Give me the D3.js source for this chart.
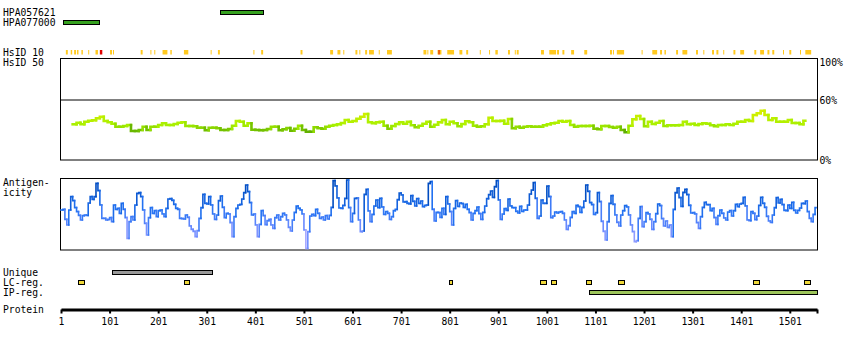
<!DOCTYPE html>
<html>
<head>
<meta charset="utf-8">
<script src="https://cdn.jsdelivr.net/npm/d3@7"></script>
<style>
  html, body { margin: 0; padding: 0; background: #fff; }
  svg { display: block; font-family: "DejaVu Sans Mono", "Liberation Mono", monospace; font-size: 9.7px; }
</style>
</head>
<body>
<svg id="chart" width="850" height="350"></svg>
<script>
// ---- protein and features (residue numbers) ----
const proteinLength = 1557;
const axisTicks = [1, 101, 201, 301, 401, 501, 601, 701, 801, 901, 1001, 1101, 1201, 1301, 1401, 1501];

const antibodyNames = ["HPA057621", "HPA077000"];
const antibodyRanges = [[329, 417], [5, 80]];

// sequence identity to the 10 closest human proteins: yellow = partial, red = high
const hsid10Ranges = [
  [11,15],[21,24],[28,32],[34,37],[43,46],[57,58],[72,77],[102,106],[108,110],[165,169],
  [185,186],[193,195],[210,220],[226,229],[254,263],[309,311],[324,328],[397,399],[413,417],
  [494,498],[555,561],[570,576],[582,583],[607,611],[615,616],[627,631],[635,645],[655,657],
  [672,682],[747,753],[755,757],[761,767],[776,784],[796,810],[821,827],[835,839],[863,865],
  [882,884],[895,900],[921,925],[935,937],[939,943],[989,995],[1006,1020],[1022,1026],
  [1033,1037],[1051,1057],[1078,1084],[1131,1135],[1137,1139],[1145,1160],[1196,1197],
  [1218,1228],[1234,1238],[1243,1246],[1267,1271],[1280,1290],[1308,1312],[1323,1325],
  [1341,1345],[1350,1354],[1364,1366],[1385,1389],[1399,1407],[1428,1432],[1440,1448],
  [1455,1459],[1465,1469],[1487,1489],[1500,1504],[1522,1524],[1533,1545]
];
const hsid10RedRanges = [[81,86],[778,780]];

const uniqueRanges = [[106, 312]];
const lcRegRanges = [[35,48],[255,266],[800,807],[986,999],[1010,1021],[1082,1093],[1148,1161],[1426,1439],[1531,1544]];
const ipRegRanges = [[1088, 1557]];

// ---- HsID 50: % identity, one value every 8 residues from residue 25 ----
const hsid50Start = 25, hsid50Step = 8, hsid50End = 1533;
const hsid50Values = [
  35.7,37.3,35.7,38.3,39.3,39.7,41.7,43.3,39.0,37.7,
  36.3,33.3,33.3,34.0,35.0,29.0,29.0,30.0,33.3,30.0,
  33.3,33.3,35.0,36.7,35.0,35.0,36.0,37.3,37.7,34.0,
  34.0,33.7,32.3,32.3,29.7,32.3,32.3,31.7,30.0,30.0,
  31.0,34.3,39.0,38.3,34.3,36.7,30.3,30.0,29.7,30.0,
  31.0,33.3,33.3,29.7,30.7,32.0,29.3,31.3,34.3,30.0,
  28.3,28.3,32.7,31.7,31.3,33.3,34.3,35.0,35.7,37.0,
  40.0,38.3,39.0,41.3,43.3,46.0,37.7,36.7,37.7,38.3,
  34.3,31.3,34.0,36.0,37.7,36.3,38.3,34.7,32.7,34.3,
  36.3,38.3,33.3,35.3,37.7,40.0,35.7,38.3,36.7,33.7,
  36.0,38.7,37.7,34.3,33.3,33.7,35.7,42.3,39.0,39.0,
  39.3,36.3,41.0,31.7,33.3,32.3,33.3,33.7,33.3,33.3,
  33.3,34.7,35.7,36.7,37.3,39.0,38.3,39.0,35.0,33.3,
  34.0,34.0,34.0,34.3,31.3,30.7,34.0,34.0,33.0,32.3,
  33.3,30.0,27.7,34.3,40.7,44.0,41.0,33.7,38.3,36.0,
  37.3,39.0,34.0,34.7,34.7,34.7,35.0,38.3,35.7,36.3,
  35.0,36.0,36.7,36.3,34.7,33.7,35.0,35.0,35.7,35.0,
  36.3,38.3,38.3,40.0,39.0,45.0,46.7,49.3,45.0,40.0,
  41.7,38.3,38.3,38.3,40.0,37.0,37.0,35.7,39.3
];

// ---- Antigenicity: score (0-216), one value every 4 residues from residue 1 ----
const antigenStart = 1, antigenStep = 4, antigenEnd = 1555;
const antigenValues = [
  120,122,92,75,120,160,148,127,115,104, 90,103,105,104,141,160,152,160,200,178,
  135,95,95,90,92,97,85,135,122,125, 110,140,122,97,35,85,100,90,135,170,
  172,160,120,80,45,97,127,110,118,100, 118,120,108,100,125,153,154,149,137,125,
  122,95,94,93,105,98,72,62,56,40, 58,95,127,167,140,138,160,135,108,92,
  105,148,162,128,97,110,108,82,40,100, 125,135,137,153,172,195,175,142,105,108,
  75,40,77,118,103,76,88,92,75,65, 97,105,90,100,110,105,90,68,57,90,
  113,132,125,120,
  108,60,5,55,102,107,103,122,110,95, 99,90,103,93,104,128,208,192,156,126,
  125,134,155,210,127,85,110,155,156,90, 55,57,167,182,117,85,107,132,150,127,
  155,129,107,115,110,92,100,118,122,151, 171,165,144,145,140,138,163,146,132,154,
  140,147,130,134,135,200,205,122,87,113, 112,98,125,107,160,138,115,75,125,148,
  131,141,139,128,137,122,112,90,110,118, 129,109,92,113,132,154,166,177,158,190,
  208,150,92,108,124,119,153,132,127,127, 116,111,131,116,120,120,135,168,180,202,
  155,95,102,150,140,140,192,160,97,102, 114,111,114,
  115,110,90,62,73,98,115,110,134,130, 113,128,147,195,176,142,136,107,112,172,
  145,86,56,30,85,140,163,137,105,83, 72,105,118,133,129,105,75,55,25,28,
  95,130,70,85,112,108,92,62,85,109, 138,133,94,72,87,68,75,40,122,172,
  186,157,131,173,182,166,134,111,112,108, 82,65,100,128,143,136,136,118,125,97,
  77,103,120,110,96,90,114,118,102,118, 137,130,138,140,158,132,90,88,115,110,
  91,102,134,158,140,128,101,87,83,105, 127,157,141,152,136,119,118,135,125,143,
  119,111,119,126,140,139,147,115,95,85, 107,127
];

// ---- layout ----
const svg = d3.select("#chart");
const x = d3.scaleLinear().domain([1, proteinLength]).range([61, 817]);
const plotLeft = 60.5, plotRight = 817.5;

const hsY = d3.scaleLinear().domain([0, 100]).range([160, 60]);
const agY = d3.scaleLinear().domain([0, 216]).range([250, 178]);

const hsColor = d3.scaleLinear().domain([28, 35, 48]).range(["#5fae00", "#a6f000", "#d6ef00"]).clamp(true);
const agColor = d3.scaleLinear().domain([0, 60, 120, 200]).range(["#a8a8ff", "#6a8aff", "#2272f2", "#004cc0"]).clamp(true);

// left-hand labels
const labels = [
  ["HPA057621", 16], ["HPA077000", 26], ["HsID 10", 56], ["HsID 50", 66],
  ["Antigen-", 186], ["icity", 196], ["Unique", 276], ["LC-reg.", 286],
  ["IP-reg.", 296], ["Protein", 313]
];
svg.append("g").selectAll("text").data(labels).join("text")
  .attr("x", 3).attr("y", d => d[1]).attr("fill", "#000").text(d => d[0]);

// feature boxes with outline
function featureBoxes(ranges, y, h, fill) {
  svg.append("g").selectAll("rect").data(ranges).join("rect")
    .attr("x", d => Math.round(x(d[0])) + 0.5)
    .attr("y", y + 0.5)
    .attr("width", d => Math.max(2, Math.round(x(d[1]) - x(d[0]))))
    .attr("height", h)
    .attr("fill", fill).attr("stroke", "#000").attr("stroke-width", 1);
}
featureBoxes([antibodyRanges[0]], 10, 4, "#36a11f");
featureBoxes([antibodyRanges[1]], 20, 4, "#36a11f");
featureBoxes(uniqueRanges, 270, 4, "#999999");
featureBoxes(lcRegRanges, 280, 4, "#efd83a");
featureBoxes(ipRegRanges, 290, 4, "#9dc55a");

// HsID 10 strip
function strip(ranges, fill) {
  svg.append("g").selectAll("rect").data(ranges).join("rect")
    .attr("x", d => x(d[0]))
    .attr("y", 50).attr("height", 4.5)
    .attr("width", d => Math.max(1, x(d[1]) - x(d[0])))
    .attr("fill", fill);
}
strip(hsid10Ranges, "#ffc91f");
strip(hsid10RedRanges, "#e00000");

// panel frames
svg.append("rect").attr("x", plotLeft).attr("y", 58.5).attr("width", plotRight - plotLeft).attr("height", 101.5)
  .attr("fill", "none").attr("stroke", "#000");
svg.append("line").attr("x1", plotLeft).attr("x2", plotRight).attr("y1", hsY(60)).attr("y2", hsY(60))
  .attr("stroke", "#000");
svg.append("rect").attr("x", plotLeft).attr("y", 178.5).attr("width", plotRight - plotLeft).attr("height", 71.5)
  .attr("fill", "none").attr("stroke", "#000");

// percent labels on the right
const pctLabels = [["100%", 65.5], ["60%", 104], ["0%", 164]];
svg.append("g").selectAll("text").data(pctLabels).join("text")
  .attr("x", 819.5).attr("y", d => d[1]).text(d => d[0]);

// step line coloured by value
function stepLine(start, step, values, end, yScale, color, width) {
  const line = d3.line();
  const segs = values.map((v, i) => {
    const r0 = start + i * step;
    const r1 = Math.min(r0 + step, end);
    const prev = i > 0 ? values[i - 1] : v;
    return { v, pts: [[x(r0), yScale(prev)], [x(r0), yScale(v)], [x(r1), yScale(v)]] };
  });
  svg.append("g").selectAll("path").data(segs).join("path")
    .attr("d", d => line(d.pts))
    .attr("fill", "none")
    .attr("stroke", d => color(d.v))
    .attr("stroke-width", width)
    .attr("stroke-linejoin", "miter")
    .attr("stroke-linecap", "square");
}
stepLine(hsid50Start, hsid50Step, hsid50Values, hsid50End, hsY, hsColor, 2.6);
stepLine(antigenStart, antigenStep, antigenValues, antigenEnd, agY, agColor, 1.6);

// protein axis
const axis = d3.axisBottom(x)
  .tickValues(axisTicks.concat([proteinLength]))
  .tickFormat(d => d === proteinLength ? "" : d3.format("d")(d))
  .tickSize(4).tickSizeOuter(0).tickPadding(5);
const ag = svg.append("g").attr("transform", "translate(0,309.5)").call(axis);
ag.select(".domain").attr("stroke-width", 3);
ag.selectAll(".tick line").attr("stroke-width", 2);
ag.selectAll("text").attr("font-family", "\"DejaVu Sans Mono\", monospace").attr("font-size", "9.7px").attr("fill", "#000");
</script>
</body>
</html>
